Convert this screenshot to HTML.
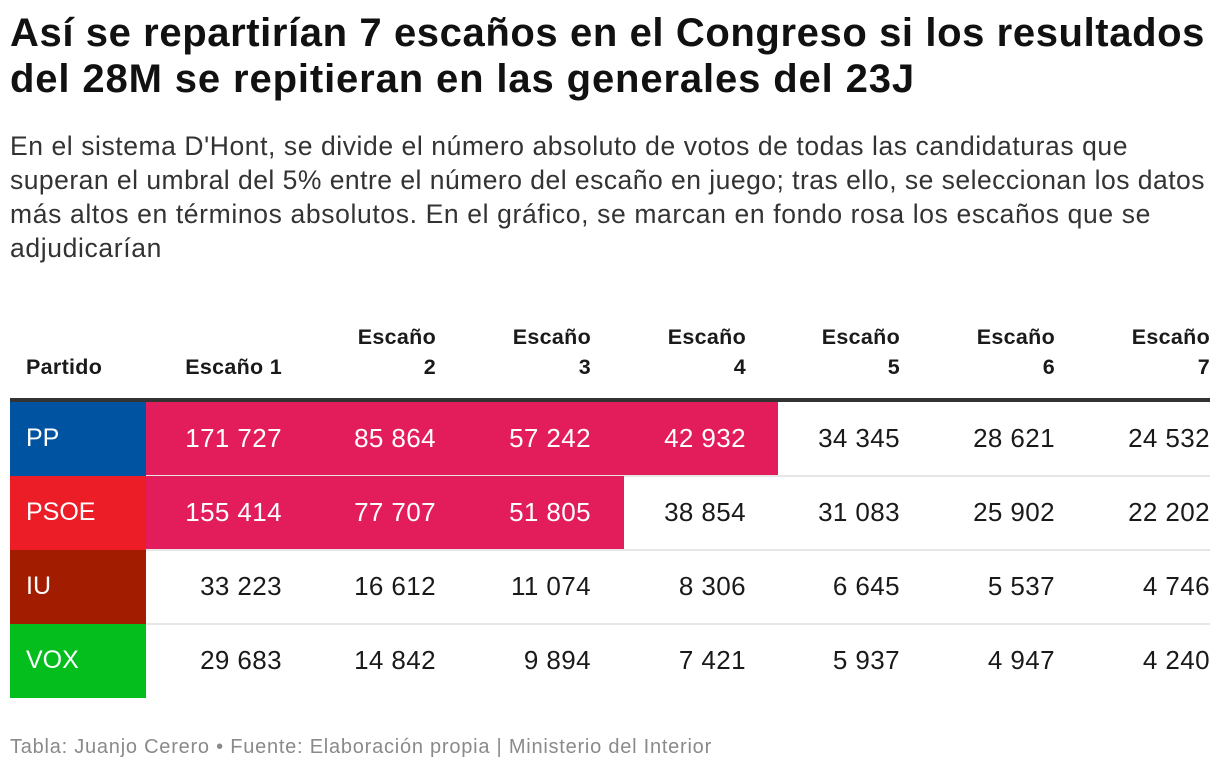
<!DOCTYPE html>
<html><head><meta charset="utf-8">
<style>
body{margin:0;width:1220px;height:772px;background:#fff;font-family:"Liberation Sans",sans-serif;color:#1a1a1a;position:relative;overflow:hidden}
.abs{position:absolute}
.ln{position:absolute;left:10px;white-space:nowrap}
.t{font-size:40px;font-weight:bold;color:#111}
.s{font-size:26.5px;color:#333}
.hd{font-size:21.5px;font-weight:bold;line-height:30px;text-align:right;color:#1a1a1a;letter-spacing:0.3px}
.cell{font-size:26px;line-height:73px;text-align:right;box-sizing:border-box;letter-spacing:0.4px}
.party{font-size:25px;line-height:73px;color:#fff;padding-left:16px;box-sizing:border-box}
.foot{font-size:20px;color:#8a8a8a}
</style></head>
<body>
<div>
<div class="ln t fit" data-w="1195" style="top:11px">Así se repartirían 7 escaños en el Congreso si los resultados</div>
<div class="ln t fit" data-w="905" style="top:57px">del 28M se repitieran en las generales del 23J</div>
</div>
<div>
<div class="ln s fit" data-w="1118" style="top:131px">En el sistema D'Hont, se divide el número absoluto de votos de todas las candidaturas que</div>
<div class="ln s fit" data-w="1195" style="top:165px">superan el umbral del 5% entre el número del escaño en juego; tras ello, se seleccionan los datos</div>
<div class="ln s fit" data-w="1141" style="top:199px">más altos en términos absolutos. En el gráfico, se marcan en fondo rosa los escaños que se</div>
<div class="ln s fit" data-w="152" style="top:233px">adjudicarían</div>
</div>
<div id="table"></div>
<div class="ln foot fit" data-w="702" style="top:736px">Tabla: Juanjo Cerero • Fuente: Elaboración propia | Ministerio del Interior</div>
<script>
const parties = ["PP","PSOE","IU","VOX"];
const partyColors = ["#0053a0","#ec1d26","#a21c00","#04be1e"];
const headers = ["Escaño 1","Escaño 2","Escaño 3","Escaño 4","Escaño 5","Escaño 6","Escaño 7"];
const ppValues = ["171 727","85 864","57 242","42 932","34 345","28 621","24 532"];
const psoeValues = ["155 414","77 707","51 805","38 854","31 083","25 902","22 202"];
const iuValues = ["33 223","16 612","11 074","8 306","6 645","5 537","4 746"];
const voxValues = ["29 683","14 842","9 894","7 421","5 937","4 947","4 240"];
const seatsWon = [4,3,0,0];

document.querySelectorAll('.fit').forEach(el=>{
  const target=+el.getAttribute('data-w');
  const w=el.getBoundingClientRect().width;
  const n=el.textContent.length;
  el.style.letterSpacing=((target-w)/n)+'px';
});

const values=[ppValues,psoeValues,iuValues,voxValues];
const T=document.getElementById('table');
const colL=[146,314,469,624,778,933,1087], colRight=[282,436,591,746,900,1055,1210];
const rowTop=402,rowH=74;
function add(cls,css,txt){const d=document.createElement('div');d.className='abs '+cls;Object.assign(d.style,css);if(txt!=null)d.innerHTML=txt;T.appendChild(d);return d;}
let h=add('hd',{left:'26px',top:'352px',textAlign:'left'},'Partido');


headers.forEach((t,i)=>{
  const parts=t.split(' ');
  const txt = i===0 ? t : parts[0]+'<br>'+parts[1];
  const d=add('hd',{right:(1220-colRight[i])+'px',top:(i===0?352:322)+'px'},txt);
  
  
});
let b=add('',{left:'10px',top:'398px',width:'1200px',height:'4px',background:'#333'});


parties.forEach((p,r)=>{
  const top=rowTop+r*rowH;
  if(r>0){const s=add('',{left:'146px',top:(top-1)+'px',width:'1064px',height:'2px',background:'#e6e6e6'});
    
    }
  const pc=add('party',{left:'10px',top:top+'px',width:'136px',height:rowH+'px',background:partyColors[r]},p);
  
  
  if(seatsWon[r]>0){
    const hl=add('',{left:'146px',top:top+'px',width:(colL[seatsWon[r]]-146)+'px',height:rowH+'px',background:'#e31d5c'});
    
    
  }
  values[r].forEach((v,i)=>{
    const c=add('cell',{right:(1220-colRight[i])+'px',top:top+'px',height:rowH+'px',color:i<seatsWon[r]?'#fff':'#1a1a1a'},v);
    
    
  });
});
</script>
</body></html>
